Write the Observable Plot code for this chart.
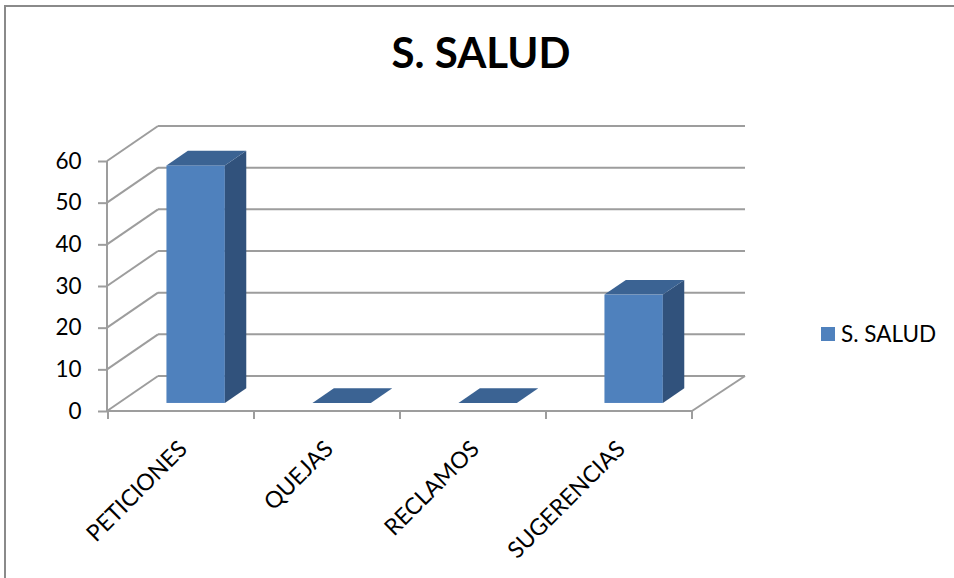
<!DOCTYPE html>
<html>
<head>
<meta charset="utf-8">
<script src="https://cdn.jsdelivr.net/npm/d3@7"></script>
<script src="https://cdn.jsdelivr.net/npm/@observablehq/plot@0.6"></script>
<style>
  body { margin: 0; background: #fff; }
  #wrap { position: relative; width: 954px; height: 578px; overflow: hidden; font-family: Lato, "Open Sans", sans-serif; background: #fff; }
  #wrap svg { position: absolute; left: 0; top: 0; }
  #title { position: absolute; left: 481px; top: 27px; transform: translateX(-50%); font-weight: bold; font-size: 42px; line-height: 50px; color: #000; white-space: nowrap; }
  #legend { position: absolute; left: 821px; top: 320px; display: flex; align-items: center; font-size: 22.5px; line-height: 28px; color: #000; white-space: nowrap; }
  #legend .sw { width: 14px; height: 14px; margin-right: 6px; }
  #bl { position: absolute; left: 4px; top: 5px; width: 2px; height: 580px; background: #8a8a8a; }
  #bt { position: absolute; left: 4px; top: 5px; width: 960px; height: 2px; background: #8a8a8a; }
</style>
</head>
<body>
<div id="wrap">
  <div id="bl"></div><div id="bt"></div>
  <div id="title"></div>
  <div id="legend"><div class="sw"></div><span></span></div>
</div>
<script>
// ---- data ----
const chartTitle = "S. SALUD";
const seriesName = "S. SALUD";
const categories = ["PETICIONES", "QUEJAS", "RECLAMOS", "SUGERENCIAS"];
const values = [57, 0, 0, 26];
const yTicks = [0, 10, 20, 30, 40, 50, 60];

// ---- styles ----
const FRONT = "#4f81bd", SIDE = "#31527c", TOP = "#3b6393";
const GRID = "#9d9d9d";
const DX = 51, DY = -35;          // depth of the 3D box
const F0 = 0.23, FD = 0.42;       // bar depth position (fraction of box depth)
const BAR_START = 0.32, BAR_W = 0.40;

const data = categories.map((c, i) => ({category: c, value: values[i]}));

document.getElementById("title").textContent = chartTitle;
document.querySelector("#legend .sw").style.background = FRONT;
document.querySelector("#legend span").textContent = seriesName;

function walls(index, scales, values, dims) {
  const {x, y} = scales;
  const x0 = dims.marginLeft, x1 = dims.width - dims.marginRight;
  const g = d3.create("svg:g").attr("fill", "none").attr("stroke", GRID).attr("stroke-width", 2);
  for (const t of yTicks) {
    const yy = y(t);
    g.append("line").attr("x1", x0 + DX).attr("x2", x1 + DX + 2).attr("y1", yy + DY).attr("y2", yy + DY);
    g.append("line").attr("x1", x0).attr("y1", yy).attr("x2", x0 + DX).attr("y2", yy + DY);
  }
  const y0 = y(0);
  g.append("line").attr("x1", x1).attr("y1", y0).attr("x2", x1 + DX + 2).attr("y2", y0 + DY);
  // front axes
  g.append("line").attr("x1", x0).attr("x2", x0).attr("y1", y(yTicks[0])).attr("y2", y(yTicks[yTicks.length - 1]));
  g.append("line").attr("x1", x0).attr("x2", x1).attr("y1", y0).attr("y2", y0);
  // category boundary ticks
  const bw = x.bandwidth();
  const bounds = categories.map(c => x(c)).concat([x(categories[categories.length - 1]) + bw]);
  for (const b of bounds) g.append("line").attr("x1", b).attr("x2", b).attr("y1", y0).attr("y2", y0 + 8);
  return g.node();
}

function bars3d(index, scales) {
  const {x, y} = scales;
  const bw = x.bandwidth();
  const g = d3.create("svg:g");
  const ddx = FD * DX, ddy = FD * DY;
  for (const d of data) {
    const xl = x(d.category) + BAR_START * bw + F0 * DX;
    const xr = xl + BAR_W * bw;
    const yb = y(0) + F0 * DY;
    const yt = y(d.value) + F0 * DY;
    if (d.value > 0) {
      g.append("rect").attr("x", xl).attr("y", yt).attr("width", xr - xl).attr("height", yb - yt).attr("fill", FRONT);
      g.append("polygon").attr("fill", SIDE)
        .attr("points", [[xr, yt], [xr + ddx, yt + ddy], [xr + ddx, yb + ddy], [xr, yb]].join(" "));
    }
    g.append("polygon").attr("fill", TOP)
      .attr("points", [[xl, yt], [xl + ddx, yt + ddy], [xr + ddx, yt + ddy], [xr, yt]].join(" "));
  }
  return g.node();
}

const chart = Plot.plot({
  width: 954,
  height: 578,
  marginLeft: 107,
  marginRight: 262,
  marginTop: 161,
  marginBottom: 167,
  style: {fontFamily: "Lato, 'Open Sans', sans-serif", background: "transparent", overflow: "visible"},
  x: {type: "band", domain: categories, padding: 0, axis: null},
  y: {domain: [0, 60], axis: null},
  marks: [
    walls,
    Plot.axisY({ticks: yTicks, tickSize: 9, tickPadding: 17, stroke: GRID, strokeWidth: 2, fill: "#000", fontSize: 22.5, label: null}),
    bars3d,
    Plot.text(categories, {x: d => d, frameAnchor: "bottom", rotate: -45, textAnchor: "end", dx: 7, dy: 39, fontSize: 23, fill: "#000"})
  ]
});
document.getElementById("wrap").appendChild(chart);
</script>
</body>
</html>
